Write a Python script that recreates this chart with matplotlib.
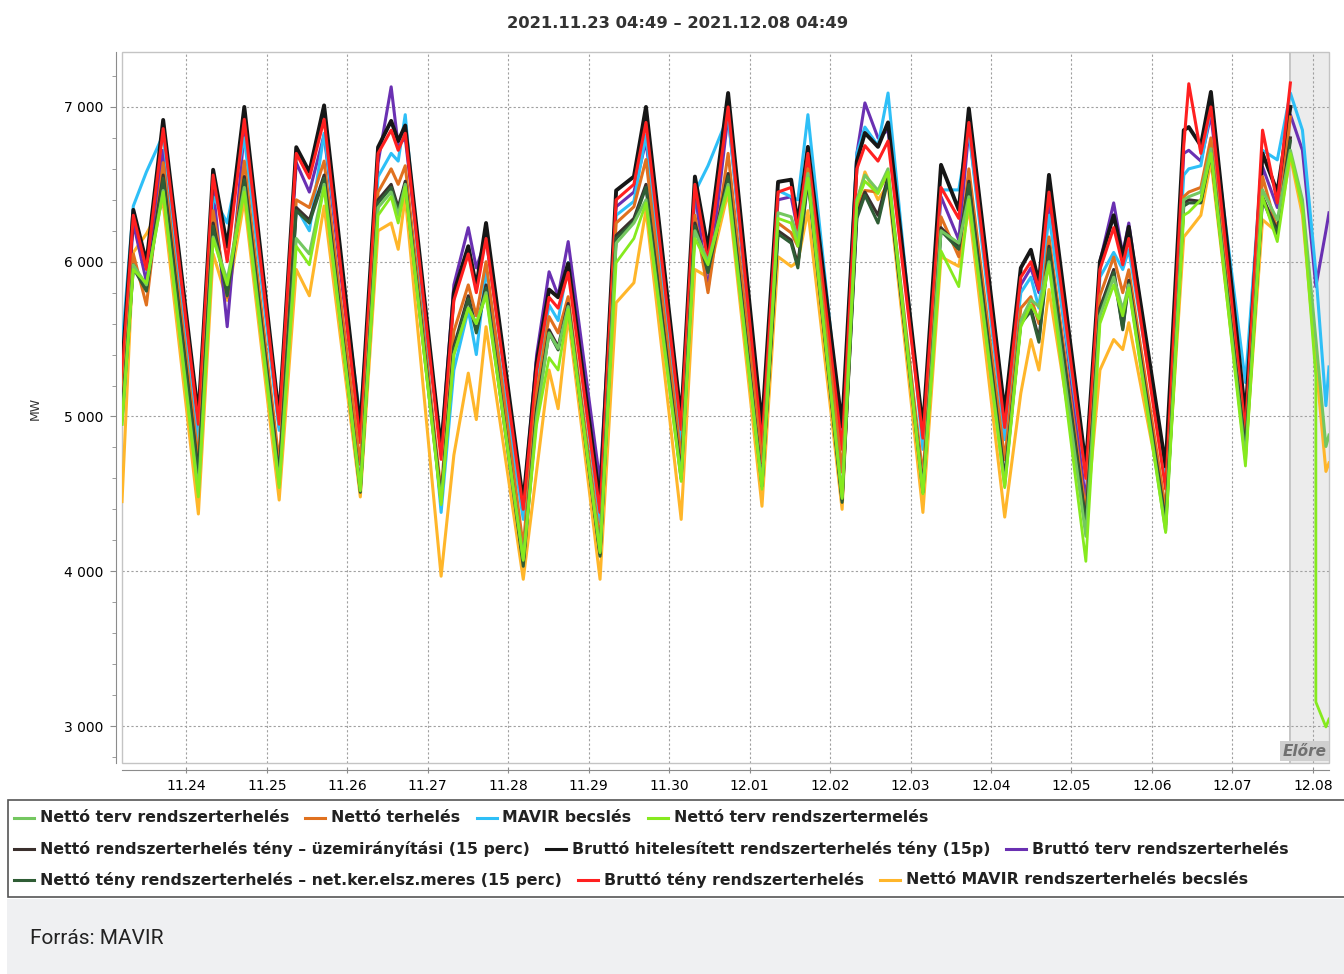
import numpy as np
import matplotlib
matplotlib.use("Agg")
import matplotlib.pyplot as plt
from matplotlib.lines import Line2D
from matplotlib.patches import Rectangle
from matplotlib.ticker import MultipleLocator

nan = np.nan

# idopontok: orak 2021.11.23 00:00 ota
hours = [4.82, 8.2, 12.1, 17.1,
         27.6, 32.0, 36.2, 41.3,
         51.7, 56.8, 60.7, 65.1,
         75.9, 81.2, 85.1, 87.2, 89.3,
         100.0, 103.8, 108.1, 110.5, 113.4,
         124.5, 128.5, 132.2, 134.9, 137.9,
         147.4, 152.2, 157.5, 161.1,
         171.6, 175.7, 179.6, 185.6,
         195.7, 200.5, 204.4, 206.4, 209.4,
         219.6, 224.0, 226.4, 230.3, 233.3,
         243.7, 249.1, 254.4, 257.4,
         268.1, 272.9, 275.9, 278.3, 281.3,
         292.3, 296.5, 300.6, 303.3, 305.1,
         316.1, 321.5, 323.0, 326.6, 329.6,
         339.9, 345.0, 349.4, 353.3,
         356.9, 360.9, 360.9, 363.9, 364.82]

# Bruttó hitelesített rendszerterhelés tény (15p)
brutto_hit = [5300, 6335, 5994, 6916,
              5000, 6594, 6097, 7000,
              4990, 6740, 6580, 7010,
              4920, 6740, 6910, 6780, 6880,
              4787, 5800, 6100, 5840, 6250,
              4445, 5350, 5820, 5770, 5990,
              4445, 6460, 6550, 7000,
              4980, 6550, 6080, 7090,
              4935, 6516, 6530, 6250, 6742,
              4935, 6650, 6832, 6742, 6900,
              4916, 6626, 6335, 6990,
              5025, 5960, 6077, 5865, 6561,
              4677, 6000, 6300, 6032, 6226,
              4677, 6850, 6870, 6750, 7097,
              5000, 6700, 6450, 7000,
              nan, nan, nan, nan, nan]

# Bruttó tény rendszerterhelés
brutto_teny = [5250, 6300, 5950, 6860,
               4950, 6560, 6000, 6920,
               4950, 6700, 6540, 6920,
               4830, 6700, 6850, 6720, 6830,
               4723, 5750, 6050, 5800, 6150,
               4400, 5300, 5770, 5700, 5930,
               4380, 6400, 6500, 6900,
               4916, 6500, 6000, 7000,
               4820, 6450, 6480, 6200, 6700,
               4787, 6600, 6750, 6650, 6780,
               4860, 6480, 6280, 6900,
               4929, 5900, 6000, 5820, 6450,
               4600, 5950, 6220, 5980, 6150,
               4530, 6750, 7150, 6700, 7000,
               4900, 6850, 6380, 7155,
               nan, nan, nan, nan, nan]

# Bruttó terv rendszerterhelés
brutto_terv = [5200, 6250, 5870, 6720,
               4900, 6480, 5580, 6850,
               4930, 6640, 6450, 6820,
               4860, 6640, 7130, 6750, 6800,
               4780, 5850, 6220, 5960, 6150,
               4420, 5400, 5935, 5780, 6130,
               4574, 6355, 6450, 6780,
               4880, 6450, 5820, 6950,
               4800, 6400, 6420, 6200, 6700,
               4800, 6700, 7026, 6800, 6850,
               4870, 6420, 6141, 6850,
               4980, 5850, 5960, 5800, 6400,
               4445, 6000, 6380, 6050, 6250,
               4580, 6700, 6720, 6650, 6950,
               4980, 6613, 6350, 6950,
               6720, 5839, 5839, 6200, 6316]

# MAVIR becslés
mavir_becsles = [5450, 6360, 6580, 6820,
                 4810, 6420, 6250, 6800,
                 4910, 6350, 6200, 6830,
                 4980, 6550, 6700, 6650, 6950,
                 4380, 5300, 5690, 5400, 5950,
                 4335, 5250, 5720, 5620, 5994,
                 4316, 6300, 6390, 6820,
                 4800, 6450, 6620, 6940,
                 4850, 6460, 6420, 6400, 6950,
                 4850, 6700, 6870, 6750, 7090,
                 4787, 6464, 6464, 6850,
                 4850, 5800, 5900, 5700, 6300,
                 4613, 5900, 6060, 5950, 6077,
                 4638, 6560, 6600, 6620, 7000,
                 5219, 6720, 6658, 7090,
                 6850, 5929, 5929, 5070, 5320]

# Nettó terhelés
netto_terheles = [5100, 6050, 5720, 6640,
                  4720, 6330, 5770, 6650,
                  4700, 6400, 6350, 6650,
                  4690, 6450, 6600, 6500, 6620,
                  4510, 5550, 5850, 5650, 6000,
                  4160, 5150, 5645, 5540, 5774,
                  4187, 6250, 6355, 6660,
                  4720, 6300, 5800, 6700,
                  4700, 6250, 6187, 6100, 6600,
                  4640, 6350, 6460, 6450, 6570,
                  4613, 6290, 6032, 6600,
                  4720, 5700, 5774, 5600, 6160,
                  4380, 5780, 6030, 5800, 5948,
                  4400, 6420, 6450, 6480, 6800,
                  4800, 6550, 6200, 6935,
                  nan, nan, nan, nan, nan]

# Nettó rendszerterhelés tény - üzemirányítási (15 perc)
netto_uzem = [5000, 5980, 5830, 6560,
              4640, 6250, 5800, 6550,
              4620, 6350, 6270, 6560,
              4540, 6400, 6500, 6350, 6520,
              4470, 5450, 5780, 5560, 5850,
              4060, 5050, 5560, 5450, 5730,
              4110, 6170, 6280, 6500,
              4620, 6250, 5950, 6570,
              4560, 6200, 6140, 5980, 6550,
              4460, 6300, 6450, 6300, 6550,
              4530, 6220, 6100, 6520,
              4600, 5620, 5700, 5500, 6100,
              4316, 5700, 5950, 5570, 5880,
              4316, 6380, 6400, 6390, 6720,
              4787, 6420, 6200, 6800,
              nan, nan, nan, nan, nan]

# Nettó tény rendszerterhelés - net.ker.elsz.meres (15 perc)
netto_nker = [4980, 5960, 5810, 6540,
              4620, 6230, 5780, 6530,
              4600, 6330, 6250, 6540,
              4510, 6380, 6480, 6330, 6500,
              4450, 5430, 5760, 5540, 5830,
              4032, 5030, 5540, 5430, 5710,
              4097, 6150, 6260, 6480,
              4600, 6230, 5930, 6550,
              4550, 6180, 6120, 5960, 6530,
              4445, 6280, 6430, 6250, 6530,
              4510, 6200, 6080, 6500,
              4580, 5600, 5680, 5480, 6080,
              4300, 5680, 5930, 5560, 5860,
              4300, 6360, 6380, 6380, 6700,
              4770, 6400, 6180, 6780,
              nan, nan, nan, nan, nan]

# Nettó terv rendszerterhelés
netto_terv_terh = [4950, 5980, 5850, 6460,
                   4510, 6160, 5880, 6480,
                   4560, 6150, 6050, 6500,
                   4530, 6350, 6450, 6300, 6500,
                   4440, 5400, 5700, 5600, 5800,
                   4080, 5000, 5540, 5440, 5710,
                   4130, 6120, 6250, 6400,
                   4594, 6200, 6000, 6500,
                   4550, 6316, 6290, 6150, 6570,
                   4480, 6400, 6560, 6460, 6600,
                   4510, 6200, 6120, 6420,
                   4550, 5620, 5755, 5710, 6000,
                   4226, 5650, 5900, 5690, 5850,
                   4260, 6400, 6420, 6450, 6730,
                   4720, 6464, 6270, 6720,
                   6400, 5500, 5500, 4806, 4880]

# Nettó terv rendszertermelés
netto_terv_term = [4950, 5950, 5860, 6450,
                   4480, 6150, 5850, 6450,
                   4540, 6100, 5980, 6480,
                   4520, 6300, 6420, 6250, 6480,
                   4430, 5400, 5700, 5600, 5780,
                   4070, 4950, 5380, 5300, 5690,
                   4120, 5994, 6150, 6380,
                   4580, 6150, 5980, 6480,
                   4530, 6280, 6250, 6100, 6540,
                   4470, 6380, 6520, 6440, 6580,
                   4500, 6070, 5839, 6400,
                   4540, 5580, 5720, 5630, 5980,
                   4064, 5600, 5850, 5650, 5830,
                   4250, 6300, 6320, 6400, 6700,
                   4680, 6420, 6130, 6700,
                   6350, 5258, 3155, 2994, 3045]

# Nettó MAVIR rendszerterhelés becslés
netto_mavir = [4450, 6060, 6180, 6380,
               4370, 6050, 5750, 6400,
               4460, 5950, 5780, 6360,
               4480, 6200, 6250, 6080, 6420,
               3968, 4750, 5280, 4980, 5580,
               3948, 4650, 5300, 5050, 5650,
               3948, 5735, 5864, 6335,
               4335, 5950, 5900, 6450,
               4420, 6032, 5970, 6000, 6330,
               4400, 6380, 6580, 6400, 6500,
               4380, 6032, 5970, 6350,
               4350, 5150, 5497, 5300, 5820,
               4300, 5300, 5497, 5432, 5606,
               4360, 6160, 6200, 6300, 6650,
               4750, 6271, 6190, 6680,
               6300, 5350, 5350, 4645, 4700]

day_ticks = [24 * k for k in range(1, 16)]
day_labels = ['11.24', '11.25', '11.26', '11.27', '11.28', '11.29', '11.30',
              '12.01', '12.02', '12.03', '12.04', '12.05', '12.06', '12.07',
              '12.08']
y_ticks = [3000, 4000, 5000, 6000, 7000]
y_labels = ['3 000', '4 000', '5 000', '6 000', '7 000']

W, H = 1344, 974
fig = plt.figure(figsize=(W / 100, H / 100), dpi=100)
ax = fig.add_axes([122 / W, 1 - 763 / H, (1329 - 122) / W, (763 - 52) / H])

# sorozatok: (adat, szin, vastagsag, felirat)
series = {
    'lgr': (netto_terv_terh, '#74c760', 2.2, 'Nettó terv rendszerterhelés'),
    'ora': (netto_terheles, '#e0711f', 2.2, 'Nettó terhelés'),
    'blu': (mavir_becsles, '#2ebff7', 2.2, 'MAVIR becslés'),
    'lim': (netto_terv_term, '#86ea1e', 2.0, 'Nettó terv rendszertermelés'),
    'dgy': (netto_uzem, '#3b302d', 2.2, 'Nettó rendszerterhelés tény – üzemirányítási (15 perc)'),
    'blk': (brutto_hit, '#161616', 2.8, 'Bruttó hitelesített rendszerterhelés tény (15p)'),
    'pur': (brutto_terv, '#6a30b2', 2.2, 'Bruttó terv rendszerterhelés'),
    'dgr': (netto_nker, '#2f5d35', 2.2, 'Nettó tény rendszerterhelés – net.ker.elsz.meres (15 perc)'),
    'red': (brutto_teny, '#ff2020', 2.2, 'Bruttó tény rendszerterhelés'),
    'yel': (netto_mavir, '#ffb62a', 2.2, 'Nettó MAVIR rendszerterhelés becslés'),
}

x = np.array(hours)
for key in ['yel', 'pur', 'blu', 'blk', 'red', 'ora', 'dgy', 'dgr', 'lgr', 'lim']:
    vals, col, lw, _ = series[key]
    ax.plot(x, vals, color=col, lw=lw, solid_joinstyle='round', zorder=2)

# elorejelzes sav
ax.axvspan(353.6, 364.82, color='#ececec', zorder=0.2, lw=0)
ax.axvspan(352.8, 353.6, color='#c6c6c6', zorder=0.2, lw=0)
ax.text(0.998, 0.006, 'Előre', transform=ax.transAxes, ha='right', va='bottom',
        fontsize=11, style='italic', weight='bold', color='#707070', zorder=3,
        bbox=dict(boxstyle='square,pad=0.15', fc='#cfcfcf', ec='none'))

ax.set_xlim(4.82, 364.82)
ax.set_ylim(2761, 7355)
ax.set_xticks(day_ticks)
ax.set_xticklabels(day_labels, fontsize=11.5, fontweight='bold', color='#2a2a2a')
ax.set_yticks(y_ticks)
ax.set_yticklabels(y_labels, fontsize=12, fontweight='bold', color='#2a2a2a')
ax.yaxis.set_minor_locator(MultipleLocator(200))

ax.set_axisbelow(True)
ax.grid(True, which='major', color='#a0a0a0', linestyle=(0, (2, 2)), linewidth=0.8)

for s in ['top', 'right']:
    ax.spines[s].set_visible(False)
ax.spines['left'].set_position(('outward', 4.3))
ax.spines['bottom'].set_position(('outward', 5))
ax.spines['left'].set_color('#8c8c8c')
ax.spines['bottom'].set_color('#8c8c8c')
ax.add_patch(Rectangle((0, 0), 1, 1, transform=ax.transAxes, fill=False,
                       ec='#c4c4c4', lw=1, clip_on=False, zorder=1))
ax.tick_params(axis='y', which='major', direction='out', length=4, color='#8c8c8c', pad=5)
ax.tick_params(axis='y', which='minor', direction='out', length=3, color='#8c8c8c')
ax.tick_params(axis='x', which='major', direction='inout', length=5, color='#8c8c8c', pad=4)

fig.text(678 / W, 1 - 24 / H, '2021.11.23 04:49 – 2021.12.08 04:49', ha='center',
         va='center', fontsize=11.8, fontweight='bold', color='#333333')
fig.text(35 / W, 1 - 408 / H, 'MW', rotation=90, ha='center', va='center',
         fontsize=9, color='#333333')

# jelmagyarazat keret
fig.patches.append(Rectangle((8 / W, 1 - 897 / H), 1.0, 97 / H, transform=fig.transFigure,
                             fc='white', ec='#555555', lw=1.2))

rows = [['lgr', 'ora', 'blu', 'lim'], ['dgy', 'blk', 'pur'], ['dgr', 'red', 'yel']]
row_y = [818, 849, 880]
renderer = fig.canvas.get_renderer()
for r, row in enumerate(rows):
    yy = 1 - row_y[r] / H
    xp = 14
    for key in row:
        _, col, _, label = series[key]
        fig.add_artist(Line2D([xp / W, (xp + 20) / W], [yy, yy], color=col, lw=2.2,
                              transform=fig.transFigure))
        t = fig.text((xp + 26) / W, yy, label, ha='left', va='center', fontsize=11.3,
                     fontweight='bold', color='#222222')
        bb = t.get_window_extent(renderer)
        xp = bb.x1 + 16

# forras sav
fig.patches.append(Rectangle((7 / W, 0), 1.0, (974 - 899) / H, transform=fig.transFigure,
                             fc='#eff0f2', ec='none'))
fig.text(30 / W, 1 - 938 / H, 'Forrás: MAVIR', ha='left', va='center', fontsize=15,
         family='Roboto', color='#222222')

fig.savefig('out.png', dpi=100)
